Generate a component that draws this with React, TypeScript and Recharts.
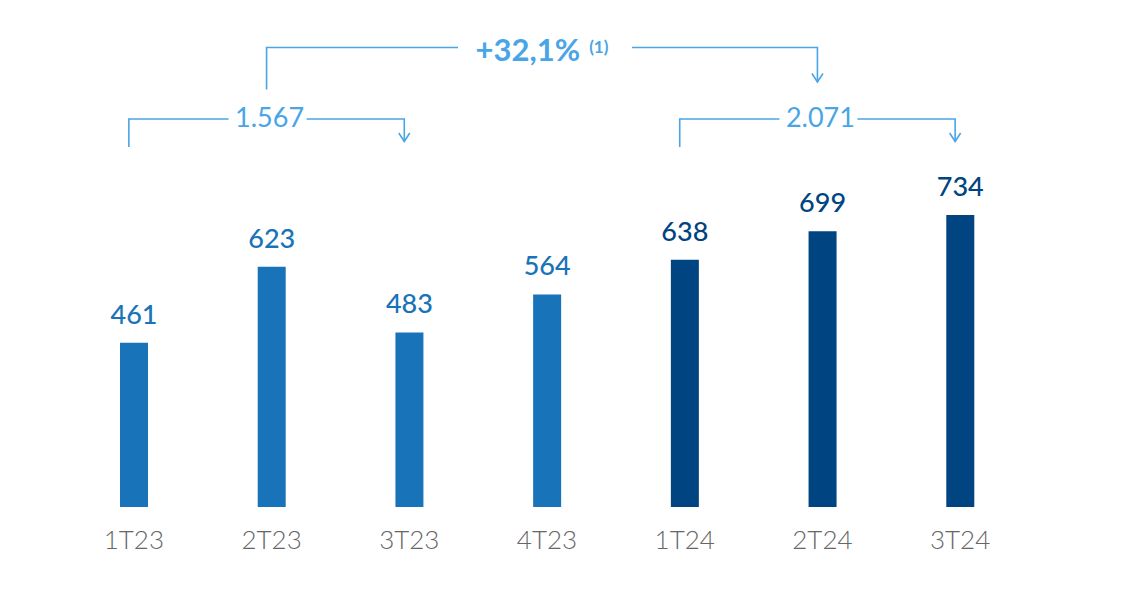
import React from 'react';
import { BarChart, Bar, XAxis, YAxis, Cell, LabelList, Customized } from 'recharts';

// ---- data ----
const categories = ['1T23', '2T23', '3T23', '4T23', '1T24', '2T24', '3T24'];
const values = [461, 623, 483, 564, 638, 699, 734];
const years = ['2023', '2023', '2023', '2023', '2024', '2024', '2024'];

const bracketSmall = [
  { label: '1.567', from: '1T23', to: '3T23' },
  { label: '2.071', from: '1T24', to: '3T24' },
];
const bracketGrowth = { label: '+32,1%', note: '(1)', from: '2T23', to: '2T24' };

// ---- styles / layout ----
const W = 1147;
const H = 595;
const MARGIN = { top: 184, right: 118, bottom: 0, left: 65 };
const X_AXIS_H = 88;
const Y_DOMAIN: [number, number] = [110, 800];
const yearColor: Record<string, string> = { '2023': '#1973B8', '2024': '#004481' };
const ANNOT = '#49A5E6';
const FONT = 'Lato, "Noto Sans", sans-serif';

const data = categories.map((c, i) => ({ cat: c, value: values[i], year: years[i] }));

const plotW = W - MARGIN.left - MARGIN.right;
const band = plotW / categories.length;
const centerOf = (c: string) => MARGIN.left + band * (categories.indexOf(c) + 0.5);

function Bracket({ x1, x2, y, legBottom, arrowTip, gap, children }: any) {
  const mid = (x1 + x2) / 2;
  return (
    <g fill="none" stroke={ANNOT} strokeWidth={1.6}>
      <polyline points={`${x1},${legBottom} ${x1},${y} ${mid - gap.left},${y}`} />
      <polyline points={`${mid + gap.right},${y} ${x2},${y} ${x2},${arrowTip}`} />
      <polyline points={`${x2 - 5.5},${arrowTip - 8.5} ${x2},${arrowTip} ${x2 + 5.5},${arrowTip - 8.5}`} />
      {children(mid)}
    </g>
  );
}

function Annotations() {
  const off = -5;
  return (
    <g>
      {bracketSmall.map((b) => (
        <Bracket
          key={b.label}
          x1={centerOf(b.from) + off}
          x2={centerOf(b.to) + off}
          y={119}
          legBottom={147}
          arrowTip={141.5}
          gap={{ left: 38, right: 40 }}
        >
          {(mid: number) => (
            <text x={mid + 3} y={127} textAnchor="middle" fill={ANNOT} stroke="none"
              fontFamily={FONT} fontSize={27} fontWeight={400}>
              {b.label}
            </text>
          )}
        </Bracket>
      ))}
      <Bracket
        x1={centerOf(bracketGrowth.from) + off}
        x2={centerOf(bracketGrowth.to) + off}
        y={47.5}
        legBottom={89.5}
        arrowTip={82}
        gap={{ left: 84, right: 90 }}
      >
        {(mid: number) => (
          <text x={mid} y={61} textAnchor="middle" fill={ANNOT} stroke="none" fontFamily={FONT}>
            <tspan fontSize={31} fontWeight={700}>{bracketGrowth.label}</tspan>
            <tspan fontSize={17} fontWeight={700} dx={9} dy={-8}>{bracketGrowth.note}</tspan>
          </text>
        )}
      </Bracket>
    </g>
  );
}

const ValueLabel = (props: any) => {
  const { x, y, width, value, index } = props;
  const color = yearColor[years[index]] || '#1973B8';
  return (
    <text x={x + width / 2} y={y - 19} textAnchor="middle" fill={color}
      fontFamily={FONT} fontSize={27} fontWeight={500}>
      {value}
    </text>
  );
};

const CatTick = (props: any) => {
  const { x, y, payload } = props;
  return (
    <text x={x} y={y} dy={34} textAnchor="middle" fill="#666666"
      fontFamily={FONT} fontSize={26} fontWeight={300}>
      {payload.value}
    </text>
  );
};

export default function App() {
  return (
    <div style={{ position: 'absolute', left: 0, top: 0, width: W, height: H, background: '#fff' }}>
      <BarChart width={W} height={H} data={data} margin={MARGIN}>
        <XAxis dataKey="cat" axisLine={false} tickLine={false} height={X_AXIS_H}
          tick={<CatTick />} interval={0} />
        <YAxis hide domain={Y_DOMAIN} allowDataOverflow />
        <Bar dataKey="value" barSize={28} isAnimationActive={false}>
          {data.map((d) => (
            <Cell key={d.cat} fill={yearColor[d.year]} />
          ))}
          <LabelList dataKey="value" content={<ValueLabel />} />
        </Bar>
        <Customized component={<Annotations />} />
      </BarChart>
    </div>
  );
}
